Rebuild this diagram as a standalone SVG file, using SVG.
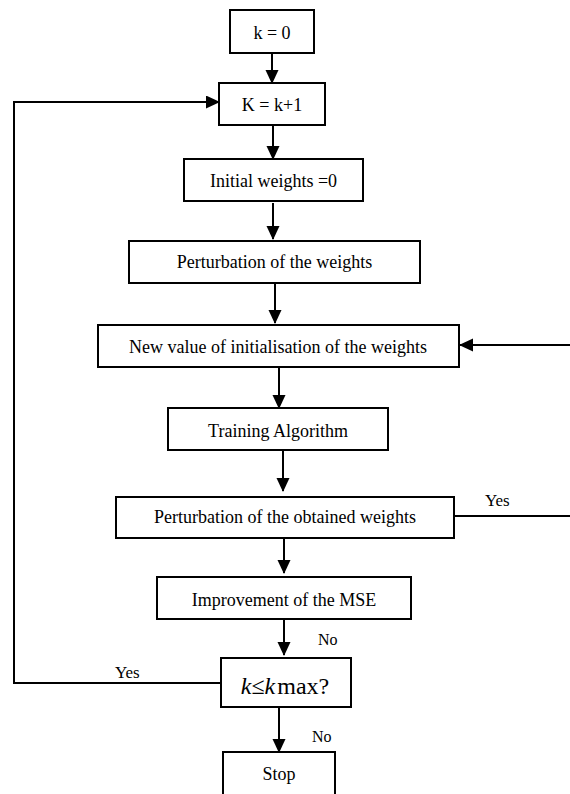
<svg xmlns="http://www.w3.org/2000/svg" width="570" height="794" viewBox="0 0 570 794">
<style>
.box{fill:#fff;stroke:#000;stroke-width:2}
.t{font-family:"Liberation Serif","Times New Roman",serif;font-size:18px;fill:#000;text-anchor:middle}
.lbl{font-family:"Liberation Serif","Times New Roman",serif;font-size:17px;fill:#000}
.c{fill:none;stroke:#000;stroke-width:2}
.a{marker-end:url(#ah)}
</style>
<defs>
<marker id="ah" markerUnits="userSpaceOnUse" markerWidth="14" markerHeight="14" refX="13" refY="6.5" orient="auto">
<path d="M0,0 L14,6.5 L0,13 z" fill="#000"/>
</marker>
</defs>
<rect width="570" height="794" fill="#fff"/>
<g id="connectors">
<line class="c a" x1="272" y1="53" x2="272" y2="83"/>
<line class="c a" x1="273" y1="125" x2="273" y2="159"/>
<line class="c a" x1="273" y1="203" x2="273" y2="239"/>
<line class="c a" x1="275" y1="283" x2="275" y2="323"/>
<line class="c a" x1="279" y1="367" x2="279" y2="408"/>
<line class="c a" x1="283" y1="450" x2="283" y2="491"/>
<line class="c a" x1="284" y1="536" x2="284" y2="573"/>
<line class="c a" x1="284" y1="617" x2="284" y2="655"/>
<line class="c a" x1="279" y1="707" x2="279" y2="752"/>
<line class="c a" x1="570" y1="345" x2="460" y2="345"/>
<line class="c" x1="452" y1="516" x2="570" y2="516"/>
<polyline class="c a" points="221,683 14,683 14,102 219,102"/>
<text class="lbl" x="485" y="506">Yes</text>
<text class="lbl" x="115" y="678">Yes</text>
<text class="lbl" x="318" y="645" style="font-size:16px">No</text>
<text class="lbl" x="312" y="742" style="font-size:16px">No</text>
</g>
<g id="n1"><rect class="box" x="230" y="10" width="84" height="43"/><text class="t" x="272" y="39">k = 0</text></g>
<g id="n2"><rect class="box" x="219" y="83" width="106" height="42"/><text class="t" x="272" y="111">K = k+1</text></g>
<g id="n3"><rect class="box" x="184" y="159" width="179" height="42"/><text class="t" x="273.5" y="187">Initial weights =0</text></g>
<g id="n4"><rect class="box" x="129" y="241" width="291" height="42"/><text class="t" x="274.5" y="268">Perturbation of the weights</text></g>
<g id="n5"><rect class="box" x="98" y="325" width="361" height="42"/><text class="t" x="278" y="353">New value of initialisation of the weights</text></g>
<g id="n6"><rect class="box" x="168" y="408" width="220" height="42"/><text class="t" x="278" y="437">Training Algorithm</text></g>
<g id="n7"><rect class="box" x="116" y="497" width="338" height="41"/><text class="t" x="285" y="523">Perturbation of the obtained weights</text></g>
<g id="n8"><rect class="box" x="157" y="577" width="254" height="42"/><text class="t" x="284" y="606">Improvement of the MSE</text></g>
<g id="n9"><rect class="box" x="221" y="658" width="130" height="49"/><text class="t" x="285" y="694" style="font-size:24px"><tspan font-style="italic">k</tspan>≤<tspan font-style="italic">k</tspan><tspan dx="2">max?</tspan></text></g>
<g id="n10"><rect class="box" x="223" y="752" width="112" height="60"/><text class="t" x="279" y="780">Stop</text></g>
</svg>
